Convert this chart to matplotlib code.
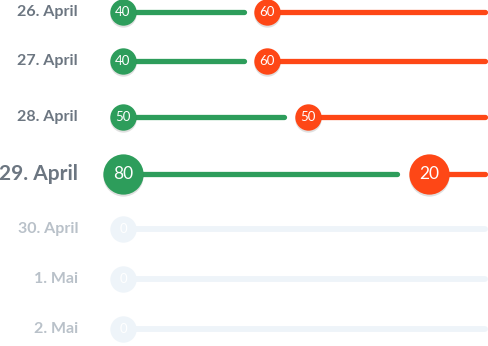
import matplotlib
matplotlib.use("Agg")
import matplotlib.pyplot as plt

# data
days = ["26. April", "27. April", "28. April", "29. April", "30. April", "1. Mai", "2. Mai"]
green_vals = [40, 40, 50, 80, 0, 0, 0]
red_vals = [60, 60, 50, 20, 0, 0, 0]
highlight = "29. April"

# layout (y in pixels from top, x in value units)
row_y = [12, 61, 117, 174, 229, 279, 329]
GREEN = "#2d9d5b"
RED = "#fe4716"
EMPTY = "#eef4f9"
LABEL = "#6c7681"
LABEL_OFF = "#b9c1c9"

scale = 4.05          # px per value unit
x0 = 105              # px of value 0
W, H = 488, 346
left, right = -x0 / scale, (W - x0) / scale
start = (123 - x0) / scale
end = (W - 3 - x0) / scale
label_x = (78 - x0) / scale

fig = plt.figure(figsize=(W / 100, H / 100), dpi=100)
ax = fig.add_axes([0, 0, 1, 1])
ax.set_xlim(left, right)
ax.set_ylim(H, 0)
ax.axis("off")

font = ["Lato", "DejaVu Sans"]

for day, g, r, y in zip(days, green_vals, red_vals, row_y):
    big = day == highlight
    ms = 29 if big else 19
    gap = 8.0 if big else 5.7
    if g + r == 0:
        ax.plot([start, end], [y, y], color=EMPTY, lw=4.2, solid_capstyle="round", zorder=1)
        ax.plot(start, y, "o", ms=ms, color=EMPTY, mec="none", zorder=2)
        ax.text(start, y, "0", color="white", fontsize=9.5, ha="center", va="center",
                family=font, zorder=3)
        ax.text(label_x, y, day, color=LABEL_OFF, fontsize=11.5, ha="right", va="center",
                family=font, fontweight="bold")
        continue
    split = g
    ax.plot([start, split - gap], [y, y], color=GREEN, lw=3.8, solid_capstyle="round", zorder=1)
    ax.plot([split, end], [y, y], color=RED, lw=3.8, solid_capstyle="round", zorder=1)
    for x, c, v in [(start, GREEN, g), (split, RED, r)]:
        ax.plot(x, y + 1.5, "o", ms=ms, color="black", alpha=0.12, mec="none", zorder=2)
        ax.plot(x, y, "o", ms=ms, color=c, mec="none", zorder=3)
        ax.text(x, y, str(v), color="white", fontsize=12.5 if big else 9.5,
                ha="center", va="center", family=font, zorder=4)
    ax.text(label_x, y, day, color=LABEL, fontsize=15 if big else 11.5,
            ha="right", va="center", family=font, fontweight="bold")

fig.savefig("out.png", dpi=100)
